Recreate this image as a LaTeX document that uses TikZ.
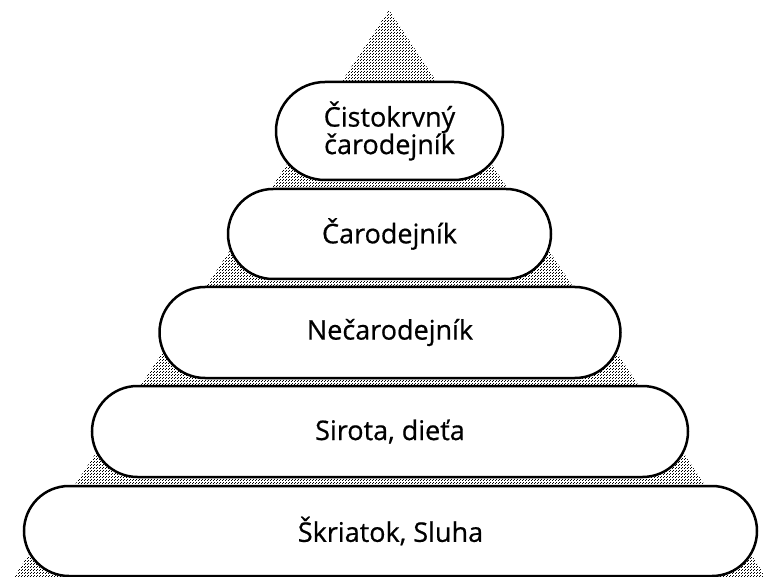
\documentclass[tikz,border=0pt]{standalone}
\usepackage{fontspec}
\setmainfont{Open Sans}
\newfontfamily\pillfont{Open Sans}[BoldFont={Open Sans}, BoldFeatures={FakeBold=0.6}]
\usetikzlibrary{patterns}
\pgfdeclarepatternformonly{densedots}{\pgfpointorigin}{\pgfpoint{3pt}{3pt}}{\pgfpoint{3pt}{3pt}}{%
  \pgfpathrectangle{\pgfpointorigin}{\pgfpoint{1.1pt}{1.1pt}}%
  \pgfpathrectangle{\pgfpoint{1.5pt}{1.5pt}}{\pgfpoint{1.1pt}{1.1pt}}%
  \pgfusepath{fill}}
\tikzset{
  pill/.style={draw=black, line width=2.5pt, fill=white, rectangle, inner sep=0pt,
    font=\pillfont\bfseries\fontsize{27}{27.5}\selectfont, align=center, text=black},
}
\begin{document}
\begin{tikzpicture}[x=1pt,y=-1pt]
\useasboundingbox (0,0) rectangle (763,577);
\begin{scope}
\clip (0,0) rectangle (763,577);
\fill[pattern=densedots, pattern color=black] (389,10) -- (12,580) -- (768,580) -- cycle;
\end{scope}
\node[pill, minimum width=227pt, minimum height=98pt, rounded corners=49pt] (b1) at (389.5,131) {Čistokrvný\\čarodejník};
\node[pill, minimum width=323pt, minimum height=90pt, rounded corners=45pt] (b2) at (389.5,234) {Čarodejník};
\node[pill, minimum width=461pt, minimum height=91pt, rounded corners=45.5pt] (b3) at (390,332.5) {Nečarodejník};
\node[pill, minimum width=596pt, minimum height=91pt, rounded corners=45.5pt] (b4) at (390,431.5) {Sirota, dieťa};
\node[pill, minimum width=733pt, minimum height=90pt, rounded corners=45pt] (b5) at (390.5,531) {Škriatok, Sluha};
\end{tikzpicture}
\end{document}
